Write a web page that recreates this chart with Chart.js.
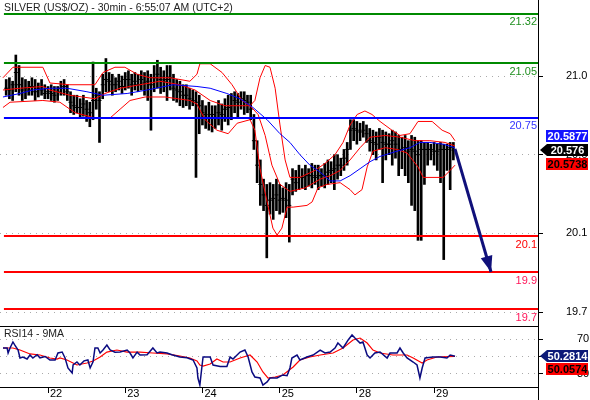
<!DOCTYPE html>
<html>
<head>
<meta charset="utf-8">
<script src="https://cdn.jsdelivr.net/npm/chart.js@4.4.0/dist/chart.umd.min.js"></script>
<style>
    html, body { margin: 0; padding: 0; background: #fff; }
    #contenedor { position: relative; width: 590px; height: 400px; }
    #panelPrecio { position: absolute; left: 0; top: 0; width: 590px; height: 326px; }
    #panelRsi { position: absolute; left: 0; top: 326px; width: 590px; height: 74px; }
</style>
</head>
<body>
<div id="contenedor">
    <div id="panelPrecio"><canvas id="chartPrecio"></canvas></div>
    <div id="panelRsi"><canvas id="chartRsi"></canvas></div>
</div>
<script>
/* ========================================
   SILVER 30min - precio + Bollinger + RSI
   ======================================== */

const tituloGrafico = 'SILVER (US$/OZ) - 30min - 6:55:07 AM (UTC+2)';
const tituloRsi = 'RSI14 - 9MA';

// Eje de tiempo: horas de negociación desde el inicio del día 22
const ejeMin = -14.92;
const ejeMax = 152.3;
const diasTicks = [0, 24, 48, 72, 96, 120];
const diasEtiquetas = ['22', '23', '24', '25', '28', '29'];

// Eje de precio
const precioMin = 19.5702;
const precioMax = 21.4347;
const precioTicks = [21.0, 20.55, 20.1, 19.65];
const precioEtiquetas = ['21.0', '20.6', '20.1', '19.7'];

// Velas horarias (máximo / mínimo / cierre), primera a la hora -13
const primeraHora = -13;
const maximos = [
    20.98, 20.99, 20.97, 21.12, 21.06, 20.99, 20.98, 20.97, 20.99, 20.98,
    20.96, 20.98, 20.95, 20.94, 20.95, 20.94, 20.94, 20.97, 20.98, 20.95,
    20.91, 20.89, 20.89, 20.87, 20.89, 20.86, 20.85, 21.08, 20.93, 20.91,
    21.01, 21.10, 21.02, 21.01, 20.99, 21.01, 21.00, 21.02, 21.03, 21.01,
    21.02, 21.01, 21.03, 21.02, 21.03, 21.01, 21.06, 21.09, 21.05, 21.03,
    21.06, 21.06, 21.01, 20.98, 20.97, 20.95, 20.95, 20.93, 20.92, 20.91,
    20.89, 20.86, 20.83, 20.85, 20.83, 20.83, 20.86, 20.84, 20.87, 20.89,
    20.90, 20.91, 20.90, 20.91, 20.91, 20.89, 20.89, 20.78, 20.63, 20.52,
    20.41, 20.38, 20.39, 20.38, 20.41, 20.38, 20.36, 20.39, 20.38, 20.47,
    20.46, 20.49, 20.47, 20.49, 20.47, 20.50, 20.49, 20.49, 20.47, 20.50,
    20.52, 20.51, 20.55, 20.55, 20.53, 20.58, 20.62, 20.75, 20.75, 20.74,
    20.73, 20.74, 20.72, 20.70, 20.69, 20.68, 20.70, 20.69, 20.68, 20.67,
    20.69, 20.68, 20.66, 20.65, 20.66, 20.63, 20.66, 20.65, 20.63, 20.63,
    20.62, 20.62, 20.61, 20.62, 20.61, 20.62, 20.61, 20.61, 20.62, 20.62
];
const minimos = [
    20.89, 20.87, 20.86, 20.91, 20.89, 20.86, 20.87, 20.89, 20.89, 20.86,
    20.88, 20.89, 20.87, 20.87, 20.86, 20.85, 20.86, 20.89, 20.89, 20.86,
    20.79, 20.78, 20.79, 20.76, 20.77, 20.74, 20.71, 20.75, 20.81, 20.62,
    20.87, 20.91, 20.91, 20.89, 20.91, 20.92, 20.90, 20.92, 20.93, 20.89,
    20.92, 20.91, 20.92, 20.89, 20.86, 20.69, 20.91, 20.93, 20.90, 20.91,
    20.86, 20.92, 20.86, 20.85, 20.83, 20.82, 20.83, 20.81, 20.83, 20.42,
    20.67, 20.72, 20.70, 20.69, 20.68, 20.70, 20.72, 20.69, 20.74, 20.72,
    20.75, 20.79, 20.76, 20.81, 20.78, 20.79, 20.75, 20.58, 20.39, 20.26,
    20.23, 19.96, 20.21, 20.18, 20.23, 20.21, 20.22, 20.19, 20.05, 20.32,
    20.34, 20.35, 20.36, 20.35, 20.37, 20.36, 20.38, 20.35, 20.37, 20.36,
    20.38, 20.39, 20.35, 20.41, 20.43, 20.46, 20.49, 20.58, 20.63, 20.61,
    20.63, 20.65, 20.62, 20.57, 20.55, 20.52, 20.58, 20.39, 20.52, 20.55,
    20.49, 20.53, 20.43, 20.47, 20.43, 20.39, 20.26, 20.23, 20.06, 20.06,
    20.38, 20.49, 20.52, 20.49, 20.46, 20.39, 19.95, 20.46, 20.35, 20.52
];
const cierres = [
    20.93, 20.92, 20.95, 21.02, 20.95, 20.92, 20.93, 20.92, 20.94, 20.91,
    20.93, 20.92, 20.90, 20.91, 20.90, 20.89, 20.91, 20.93, 20.94, 20.91,
    20.85, 20.83, 20.82, 20.82, 20.84, 20.81, 20.79, 20.86, 20.89, 20.86,
    20.95, 20.98, 20.97, 20.95, 20.95, 20.97, 20.94, 20.98, 20.98, 20.95,
    20.97, 20.95, 20.98, 20.96, 20.97, 20.95, 20.99, 21.01, 20.98, 20.97,
    20.98, 20.99, 20.93, 20.92, 20.91, 20.89, 20.89, 20.87, 20.86, 20.85,
    20.83, 20.79, 20.78, 20.76, 20.78, 20.76, 20.79, 20.78, 20.81, 20.82,
    20.83, 20.86, 20.85, 20.87, 20.86, 20.85, 20.81, 20.63, 20.49, 20.38,
    20.32, 20.26, 20.29, 20.30, 20.32, 20.29, 20.30, 20.29, 20.26, 20.41,
    20.39, 20.42, 20.42, 20.43, 20.43, 20.43, 20.42, 20.43, 20.43, 20.43,
    20.45, 20.46, 20.47, 20.49, 20.49, 20.53, 20.58, 20.69, 20.70, 20.69,
    20.68, 20.69, 20.67, 20.63, 20.62, 20.61, 20.65, 20.62, 20.61, 20.61,
    20.63, 20.61, 20.58, 20.58, 20.59, 20.57, 20.58, 20.57, 20.55, 20.58,
    20.58, 20.58, 20.58, 20.57, 20.57, 20.58, 20.58, 20.58, 20.59, 20.576
];

// Bandas de Bollinger y media móvil: [hora, precio]
const bandaSuperior = [
    [-14, 20.99], [-10.9, 21.05], [-1.6, 21.05], [0.6, 20.96], [6.8, 20.95], [14.6, 20.95],
    [17.1, 21.02], [20.8, 21.05], [23.9, 21.05], [27.7, 21.01], [31.7, 20.99], [37.9, 20.99],
    [44.1, 20.97], [46.3, 21.01], [47.2, 21.07], [50.4, 21.07], [54.1, 21.02], [57.2, 20.95],
    [60.3, 20.86], [62.8, 20.83], [64.3, 20.86], [65.9, 20.99], [67.5, 21.06], [69.0, 21.05],
    [70.6, 20.93], [72.1, 20.72], [73.7, 20.52], [75.2, 20.42], [78.3, 20.42], [83.0, 20.46],
    [86.1, 20.50], [89.2, 20.55], [91.7, 20.62], [93.9, 20.72], [96.1, 20.78], [98.5, 20.80],
    [100.7, 20.78], [103.2, 20.74], [106.9, 20.69], [109.4, 20.66], [112.5, 20.67], [115.0, 20.74],
    [119.4, 20.74], [122.5, 20.69], [125.0, 20.67], [126.5, 20.63]
];
const bandaMedia = [
    [-14, 20.92], [-8.7, 20.93], [-1.6, 20.94], [0.6, 20.92], [6.8, 20.89], [14.6, 20.87],
    [17.7, 20.90], [22.4, 20.93], [28.6, 20.95], [34.8, 20.97], [41, 20.95], [45.7, 20.92],
    [50.4, 20.86], [55, 20.83], [59.7, 20.83], [62.8, 20.83], [65.3, 20.78], [67.5, 20.66],
    [69.6, 20.49], [72.1, 20.38], [75.2, 20.34], [79.9, 20.36], [84.6, 20.41], [87.7, 20.43],
    [90.8, 20.46], [93.9, 20.52], [97, 20.59], [100.1, 20.65], [104.8, 20.66], [109.4, 20.65],
    [114.1, 20.63], [118.7, 20.63], [123.4, 20.62], [126.5, 20.60]
];
const bandaInferior = [
    [-14, 20.82], [-11.8, 20.85], [-1.6, 20.86], [3.7, 20.85], [8.4, 20.79], [14.6, 20.76],
    [19.3, 20.76], [22.4, 20.81], [25.5, 20.86], [30.2, 20.88], [36.4, 20.88], [44.1, 20.86],
    [46.3, 20.84], [48.8, 20.75], [52.5, 20.69], [56, 20.67], [58.8, 20.73], [62.8, 20.75],
    [64.3, 20.69], [65.9, 20.47], [68.1, 20.28], [69.9, 20.13], [71.2, 20.09], [72.7, 20.13],
    [74.3, 20.25], [76.2, 20.25], [80.5, 20.26], [82.1, 20.28], [83.9, 20.36], [86.7, 20.38],
    [90.8, 20.39], [93.9, 20.35], [95.4, 20.32], [97.6, 20.35], [99.2, 20.48], [101, 20.57],
    [104.8, 20.59], [108.5, 20.58], [111.6, 20.56], [115, 20.48], [116.6, 20.42], [122.8, 20.42],
    [125, 20.46], [126.5, 20.49]
];
const mediaMovil = [
    [-14, 20.88], [-8.7, 20.90], [-4.7, 20.92], [0.6, 20.93], [5.9, 20.93], [12.1, 20.91],
    [17.1, 20.89], [24.6, 20.90], [30.8, 20.92], [38.9, 20.95], [46.3, 20.94], [50.4, 20.93],
    [55.6, 20.90], [59.7, 20.87], [63.7, 20.82], [68.1, 20.75], [72.1, 20.67], [75.2, 20.62],
    [78.3, 20.55], [81.4, 20.49], [84.6, 20.45], [87.7, 20.40], [90.8, 20.40], [93.9, 20.43],
    [97, 20.47], [100.1, 20.51], [103.2, 20.54], [108.5, 20.57], [112.5, 20.59], [115.6, 20.62],
    [118.7, 20.62], [122.8, 20.61], [126.5, 20.59]
];

// Niveles horizontales dibujados sobre el gráfico
const inicioNiveles = -13.7;
const nivelesPrecio = [21.355, 21.074, 20.76, 20.085, 19.879, 19.667];
const nivelesEtiquetas = ['21.32', '21.05', '20.75', '20.1', '19.9', '19.7'];

// Flecha de proyección [hora, precio]
const flechaDesde = [126.5, 20.583];
const flechaHasta = [137.7, 19.879];

// Últimos valores (cajas del eje)
const ultimaMedia = 20.5877;
const ultimoPrecio = 20.576;
const ultimaBanda = 20.5738;
const ultimoRsi = 50.2814;
const ultimaMediaRsi = 50.0574;

// RSI14 y su media de 9: [hora, valor]
const rsiMin = 15.14;
const rsiMax = 84.86;
const rsiTicks = [30, 50, 70];
const rsiEtiquetas = ['30', '', '70'];
const rsiLinea = [
    [-14, 59.7], [-12.7, 59.7], [-12.4, 54], [-11.8, 59.7], [-10.9, 66.6], [-10.3, 63],
    [-9.3, 57.4], [-8.7, 48.3], [-7.8, 49.4], [-6.5, 47.1], [-5.6, 51.7], [-4.7, 48.3],
    [-3.4, 52], [-2.5, 48.5], [-0.9, 50], [0.6, 46], [2.2, 46], [3.1, 54], [4.4, 55.1],
    [5.3, 48.3], [6.2, 36.9], [7.5, 31.1], [7.8, 40.3], [9.0, 43.7], [9.9, 40.3], [11.2, 45],
    [12.4, 46], [13.1, 36.9], [14.0, 44], [14.6, 59.7], [15.5, 59.7], [16.2, 54], [17.1, 57.4],
    [18.3, 63.1], [19.3, 57.4], [20.8, 55], [22.4, 55.1], [24.6, 57.4], [25.5, 54], [26.4, 48.3],
    [27.7, 55], [28.6, 51.7], [30.8, 52], [32.6, 59.7], [33.9, 54], [34.8, 55.1], [37.0, 54],
    [38.5, 52], [41.0, 49.4], [43.2, 48.5], [45.1, 46], [46.3, 36.9], [46.6, 25.4], [47.2, 17.4],
    [47.9, 40.3], [48.2, 49.4], [50.4, 49.4], [51.3, 40.3], [53.5, 38.5], [55.6, 38.5],
    [56.6, 49.4], [57.5, 47], [59.7, 55.1], [61.2, 57.4], [62.2, 49.4], [63.4, 32.3],
    [64.3, 26.6], [65.9, 25.4], [66.8, 17.4], [68.1, 20.9], [69.0, 25.4], [71.2, 25.4],
    [73.0, 28.9], [74.3, 28], [75.2, 36.9], [75.8, 48.3], [77.4, 51.7], [78.3, 46], [80.5, 49.4],
    [82.4, 51.7], [84.6, 57.4], [86.1, 54], [87.7, 55.1], [89.2, 59.7], [90.1, 65.4], [91.7, 59.7],
    [93.3, 68.9], [94.5, 74.6], [95.4, 71.1], [97.0, 65.4], [97.9, 66.6], [99.2, 51.7],
    [100.1, 48.3], [101.6, 54], [103.2, 55.1], [105.4, 48.3], [106.3, 54], [108.5, 54],
    [109.4, 59.7], [110.4, 54], [111.6, 48.3], [113.5, 43.7], [114.7, 40.3], [115.6, 25.4],
    [116.3, 36.9], [117.2, 48.3], [119.7, 49.4], [121.9, 49.4], [124.0, 48.3], [125.0, 51.7],
    [126.5, 50.28]
];
const rsiMedia = [
    [-14, 59.7], [-10.9, 59.7], [-8.7, 57.4], [-5.6, 52.9], [-2.5, 51.7], [0.6, 48.3], [2.8, 47.1],
    [3.7, 48.3], [5.9, 46], [9, 40.3], [12.1, 42.6], [14, 44.9], [16.2, 49.4], [18.3, 55.1],
    [21.4, 57.4], [24.6, 55.1], [28.6, 55.1], [32.6, 54], [37, 52.9], [41, 50.6], [44.1, 48.3],
    [46.3, 44.9], [47.2, 40.3], [48.2, 39.1], [50.4, 41.4], [52.5, 47.1], [54.4, 43.7],
    [56.6, 43.7], [59.7, 48.3], [62.8, 51.7], [65, 43.7], [66.8, 32.3], [68.4, 25.4],
    [70.6, 26.6], [73, 28.9], [76.2, 38], [78.3, 46], [81.4, 49.4], [84.6, 51.7], [88.6, 54],
    [91.7, 59.7], [94.8, 68.9], [97, 71.1], [99.2, 65.4], [101, 57.4], [103.2, 54],
    [107.2, 51.7], [111.6, 51.7], [113.5, 48.3], [116.3, 42.6], [117.8, 46], [120.9, 49.4],
    [126.5, 50.06]
];

const FUENTE = '"Liberation Sans", Arial, sans-serif';
const coloresNiveles = ['#008a00', '#008a00', '#0000ff', '#ff0000', '#ff0000', '#ff0000'];
const coloresTextoNiveles = ['#1f8f1f', '#1f8f1f', '#3434ff', '#ff0000', '#ff1458', '#ff1458'];
const AZUL_FLECHA = '#10107a';

let chartPrecio = null;
let chartRsi = null;

function aPuntos(lista) {
    return lista.map(p => ({ x: p[0], y: p[1] }));
}

/**
 * Caja de valor en el eje derecho (con o sin punta)
 */
function dibujarCaja(ctx, borde, yc, texto, fondo, colorTexto, conPunta) {
    ctx.save();
    ctx.fillStyle = fondo;
    ctx.beginPath();
    if (conPunta) {
        ctx.moveTo(borde + 2, yc);
        ctx.lineTo(borde + 9, yc - 6);
        ctx.lineTo(588, yc - 6);
        ctx.lineTo(588, yc + 6);
        ctx.lineTo(borde + 9, yc + 6);
        ctx.closePath();
    } else {
        ctx.rect(borde + 8, yc - 6, 588 - borde - 8, 12);
    }
    ctx.fill();
    ctx.fillStyle = colorTexto;
    ctx.font = 'bold 11px ' + FUENTE;
    ctx.textAlign = 'center';
    ctx.textBaseline = 'middle';
    ctx.fillText(texto, (borde + 9 + 588) / 2, yc + 0.5);
    ctx.restore();
}

const extrasPrecio = {
    id: 'extrasPrecio',
    afterDatasetsDraw(chart) {
        const { ctx, chartArea, scales } = chart;
        const x0 = scales.x.getPixelForValue(flechaDesde[0]);
        const y0 = scales.y.getPixelForValue(flechaDesde[1]);
        const x1 = scales.x.getPixelForValue(flechaHasta[0]);
        const y1 = scales.y.getPixelForValue(flechaHasta[1]);
        const ang = Math.atan2(y1 - y0, x1 - x0);
        const largo = 16, medio = 6;

        // punta de la flecha
        ctx.save();
        ctx.fillStyle = AZUL_FLECHA;
        ctx.beginPath();
        ctx.moveTo(x1, y1);
        ctx.lineTo(x1 - largo * Math.cos(ang) + medio * Math.sin(ang), y1 - largo * Math.sin(ang) - medio * Math.cos(ang));
        ctx.lineTo(x1 - largo * Math.cos(ang) - medio * Math.sin(ang), y1 - largo * Math.sin(ang) + medio * Math.cos(ang));
        ctx.closePath();
        ctx.fill();

        // etiquetas de los niveles
        ctx.font = '11px ' + FUENTE;
        ctx.textAlign = 'right';
        ctx.textBaseline = 'top';
        nivelesPrecio.forEach((v, i) => {
            const y = scales.y.getPixelForValue(v);
            ctx.fillStyle = coloresTextoNiveles[i];
            ctx.fillText(nivelesEtiquetas[i], chartArea.right - 1, y + 3);
        });
        ctx.restore();
    },
    afterDraw(chart) {
        const { ctx, chartArea, scales } = chart;
        ctx.save();
        ctx.font = '10.5px ' + FUENTE;
        ctx.fillStyle = '#222';
        ctx.textAlign = 'left';
        ctx.textBaseline = 'middle';
        ctx.fillText(tituloGrafico, 4, 8);
        ctx.restore();

        const yc = Math.round(scales.y.getPixelForValue(ultimoPrecio));
        dibujarCaja(ctx, chartArea.right, yc - 14, ultimaMedia.toFixed(4), '#1414ff', '#fff', false);
        dibujarCaja(ctx, chartArea.right, yc + 14, ultimaBanda.toFixed(4), '#ff0000', '#000', false);
        dibujarCaja(ctx, chartArea.right, yc, ultimoPrecio.toFixed(3), '#000', '#fff', true);
    }
};

const extrasRsi = {
    id: 'extrasRsi',
    afterDraw(chart) {
        const { ctx, chartArea, scales } = chart;
        ctx.save();
        ctx.strokeStyle = '#000';
        ctx.lineWidth = 1;
        ctx.beginPath();
        ctx.moveTo(0, 0.5);
        ctx.lineTo(chartArea.right, 0.5);
        ctx.moveTo(chartArea.right + 0.5, 0);
        ctx.lineTo(chartArea.right + 0.5, chart.height);
        ctx.stroke();

        ctx.font = '10.5px ' + FUENTE;
        ctx.fillStyle = '#222';
        ctx.textAlign = 'left';
        ctx.textBaseline = 'middle';
        ctx.fillText(tituloRsi, 4, 8);
        ctx.restore();

        const yc = Math.round(scales.y.getPixelForValue(ultimoRsi));
        dibujarCaja(ctx, chartArea.right, yc + 13, ultimaMediaRsi.toFixed(4), '#ff0000', '#000', false);
        dibujarCaja(ctx, chartArea.right, yc, ultimoRsi.toFixed(4), '#0c1a78', '#fff', true);
    }
};

function ejeDerecho(min, max, ticks, etiquetas, relleno) {
    return {
        type: 'linear',
        position: 'right',
        min: min,
        max: max,
        afterBuildTicks: s => { s.ticks = ticks.map(v => ({ value: v })); },
        afterFit: s => { s.width = 52; s.paddingTop = 0; s.paddingBottom = 0; },
        ticks: {
            callback: (v, i) => etiquetas[i],
            color: '#000',
            font: { family: FUENTE, size: 11 },
            padding: relleno
        },
        grid: { color: '#aaaaaa', lineWidth: 1, drawTicks: true, tickLength: 5, tickColor: '#000' },
        border: { display: true, color: '#000', width: 1, dash: [1, 5] }
    };
}

/**
 * Panel superior: velas, bandas, niveles y flecha
 */
function inicializarChartPrecio() {
    const ctx = document.getElementById('chartPrecio');
    if (!ctx) return;
    if (chartPrecio) chartPrecio.destroy();

    const velas = maximos.map((h, i) => ({ x: primeraHora + i, y: [minimos[i], h] }));
    const marcasCierre = cierres.map((c, i) => ({ x: primeraHora + i, y: c }));

    const datasetsNiveles = nivelesPrecio.map((v, i) => ({
        type: 'line',
        data: [{ x: inicioNiveles, y: v }, { x: ejeMax, y: v }],
        borderColor: coloresNiveles[i],
        borderWidth: 2,
        pointRadius: 0,
        order: 1
    }));

    chartPrecio = new Chart(ctx, {
        type: 'line',
        data: {
            datasets: [
                ...datasetsNiveles,
                {
                    type: 'line',
                    data: aPuntos([flechaDesde, flechaHasta]),
                    borderColor: AZUL_FLECHA,
                    borderWidth: 3,
                    pointRadius: 0,
                    order: 0
                },
                { data: aPuntos(mediaMovil), borderColor: '#0000ff', borderWidth: 1, pointRadius: 0, order: 2 },
                { data: aPuntos(bandaSuperior), borderColor: '#ff0000', borderWidth: 1, pointRadius: 0, order: 2 },
                { data: aPuntos(bandaMedia), borderColor: '#ff0000', borderWidth: 1, pointRadius: 0, order: 2 },
                { data: aPuntos(bandaInferior), borderColor: '#ff0000', borderWidth: 1, pointRadius: 0, order: 2 },
                {
                    type: 'line',
                    data: marcasCierre,
                    showLine: false,
                    pointStyle: 'line',
                    pointRadius: 2,
                    pointBorderWidth: 1,
                    pointBorderColor: '#000',
                    order: 3
                },
                {
                    type: 'bar',
                    data: velas,
                    backgroundColor: '#000',
                    borderWidth: 0,
                    barThickness: 2,
                    order: 4
                }
            ]
        },
        options: {
            responsive: true,
            maintainAspectRatio: false,
            animation: false,
            events: [],
            layout: { padding: 0, autoPadding: false },
            plugins: { legend: { display: false }, tooltip: { enabled: false } },
            scales: {
                x: { type: 'linear', min: ejeMin, max: ejeMax, display: false, offset: false },
                y: ejeDerecho(precioMin, precioMax, precioTicks, precioEtiquetas, 23)
            }
        },
        plugins: [extrasPrecio]
    });
}

/**
 * Panel inferior: RSI14 y media de 9
 */
function inicializarChartRsi() {
    const ctx = document.getElementById('chartRsi');
    if (!ctx) return;
    if (chartRsi) chartRsi.destroy();

    chartRsi = new Chart(ctx, {
        type: 'line',
        data: {
            datasets: [
                { data: aPuntos(rsiLinea), borderColor: '#0a0a80', borderWidth: 1.5, pointRadius: 0, order: 1 },
                { data: aPuntos(rsiMedia), borderColor: '#ff0000', borderWidth: 1.2, pointRadius: 0, order: 2 }
            ]
        },
        options: {
            responsive: true,
            maintainAspectRatio: false,
            animation: false,
            events: [],
            layout: { padding: 0, autoPadding: false },
            plugins: { legend: { display: false }, tooltip: { enabled: false } },
            scales: {
                x: {
                    type: 'linear',
                    min: ejeMin,
                    max: ejeMax,
                    offset: false,
                    afterBuildTicks: s => { s.ticks = diasTicks.map(v => ({ value: v })); },
                    afterFit: s => { s.height = 13; s.paddingLeft = 0; s.paddingRight = 0; },
                    ticks: {
                        callback: (v, i) => diasEtiquetas[i],
                        align: 'start',
                        labelOffset: 2,
                        padding: -6,
                        autoSkip: false,
                        maxRotation: 0,
                        color: '#000',
                        font: { family: FUENTE, size: 11 }
                    },
                    grid: { drawOnChartArea: false, drawTicks: true, tickLength: 6, tickColor: '#000' },
                    border: { display: true, color: '#000', width: 1 }
                },
                y: ejeDerecho(rsiMin, rsiMax, rsiTicks, rsiEtiquetas, 34)
            }
        },
        plugins: [extrasRsi]
    });
}

function inicializarCharts() {
    if (typeof Chart === 'undefined') {
        console.error('Chart.js no está cargado');
        return;
    }
    inicializarChartPrecio();
    inicializarChartRsi();
}

if (document.readyState === 'loading') {
    document.addEventListener('DOMContentLoaded', inicializarCharts);
} else {
    inicializarCharts();
}
</script>
</body>
</html>
